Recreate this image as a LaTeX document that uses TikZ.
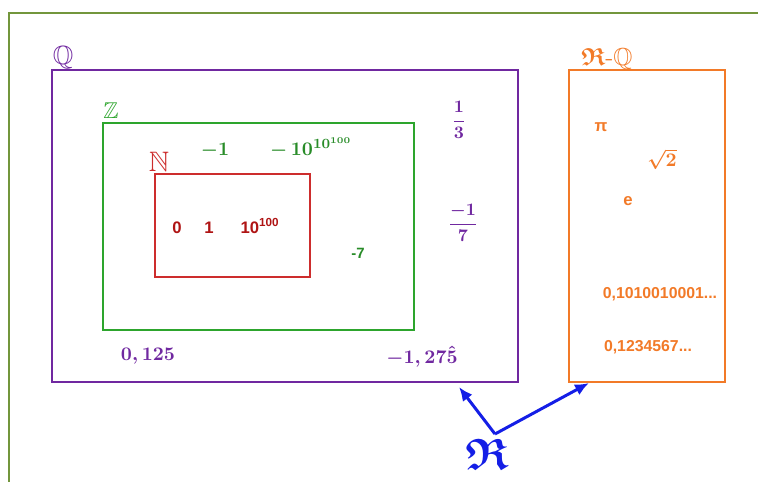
\documentclass[tikz,border=0pt]{standalone}
\usepackage{amsmath,amssymb}
\usepackage{fontspec}
\newfontfamily\arialfont{Liberation Sans}
\usepackage{xcolor}
\usepackage{tikz}
\usetikzlibrary{arrows.meta}

\definecolor{framegreen}{RGB}{115,150,60}
\definecolor{qpurple}{RGB}{112,40,160}
\definecolor{zgreen}{RGB}{45,165,45}
\definecolor{ztext}{RGB}{40,140,40}
\definecolor{nred}{RGB}{205,45,45}
\definecolor{ntext}{RGB}{175,20,20}
\definecolor{irrorange}{RGB}{242,122,40}
\definecolor{rblue}{RGB}{20,30,230}

\tikzset{
  setbox/.style={line width=1.1pt},
  mathlbl/.style={inner sep=0pt, font=\fontsize{11}{13}\selectfont\boldmath},
  fraclbl/.style={inner sep=0pt, text=qpurple, font=\fontsize{10}{12}\selectfont\boldmath},
  sanslbl/.style={inner sep=0pt, font=\fontsize{9.5}{11}\selectfont\arialfont\bfseries},
  arr/.style={rblue, line width=1.7pt, -{Latex[length=2.8mm,width=2.4mm]}}
}

\begin{document}
\begin{tikzpicture}[x=0.02cm, y=-0.02cm]
\useasboundingbox (0,0) rectangle (758,482);
\draw[framegreen, line width=1.1pt] (9,490) -- (9,13) -- (770,13);

% the nested sets
\draw[setbox, qpurple] (52,70) rectangle (518,382);
\draw[setbox, zgreen] (103,123) rectangle (414,330);
\draw[setbox, nred] (155,174) rectangle (310,277);
\draw[setbox, irrorange] (569,70) rectangle (725,382);

\node[qpurple, font=\fontsize{15}{16}\selectfont] (lblQ) at (63,58) {$\mathbb{Q}$};
\node[zgreen, font=\fontsize{13}{14}\selectfont] (lblZ) at (111,111) {$\mathbb{Z}$};
\node[nred, font=\fontsize{16}{17}\selectfont] (lblN) at (159,162) {$\mathbb{N}$};
\node[irrorange, font=\fontsize{14}{15}\selectfont\boldmath] (lblRQ) at (607,59) {$\mathfrak{R}$-$\mathbb{Q}$};

% naturals
\node[sanslbl, ntext] (n0) at (177,228) {0};
\node[sanslbl, ntext] (n1) at (209,228) {1};
\node[sanslbl, ntext] (nbig) at (260,226) {10\textsuperscript{100}};

% integers
\node[mathlbl, ztext] (zm1) at (215,151) {$-1$};
\node[mathlbl, ztext] (zbig) at (311,148) {$-\,10^{10^{100}}$};
\node[sanslbl, ztext, font=\fontsize{8.5}{10}\selectfont\arialfont\bfseries] (zm7) at (358,253) {-7};

% rationals
\node[fraclbl] (qthird) at (459,120) {$\dfrac{1}{3}$};
\node[fraclbl] (qseventh) at (463,223) {$\dfrac{-1}{7}$};
\node[mathlbl, text=qpurple] (qdec) at (148,356) {$0,125$};
\node[mathlbl, text=qpurple] (qper) at (422,357) {$-1,27\hat{5}$};

% irrationals
\node[sanslbl, irrorange] (ipi) at (601,127) {π};
\node[mathlbl, irrorange] (isqrt) at (662,159) {$\sqrt{2}$};
\node[sanslbl, irrorange] (ie) at (628,201) {e};
\node[sanslbl, irrorange, font=\fontsize{9}{11}\selectfont\arialfont\bfseries] (ione) at (660,294) {0,1010010001...};
\node[sanslbl, irrorange, font=\fontsize{9}{11}\selectfont\arialfont\bfseries] (itwo) at (648,347) {0,1234567...};

% the reals
\node[rblue, font=\fontsize{25}{26}\selectfont] (reals) at (487,454) {$\boldsymbol{\mathfrak{R}}$};
\coordinate (fork) at (495,434);
\coordinate (qend) at (459,387);
\coordinate (iend) at (589,383);
\draw[arr] (fork) -- (qend);
\draw[arr] (fork) -- (iend);
\end{tikzpicture}
\end{document}
